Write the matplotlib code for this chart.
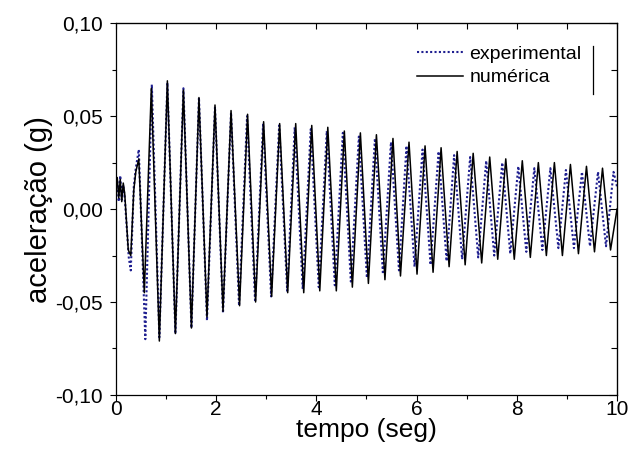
import matplotlib
matplotlib.use("Agg")
import matplotlib.pyplot as plt
from matplotlib.ticker import MultipleLocator, FuncFormatter
from matplotlib.lines import Line2D

plt.rcParams['font.family'] = ['Liberation Sans', 'DejaVu Sans']

# extrema (time in s, acceleration in g)
t_num = [0.00, 0.03, 0.06, 0.09, 0.12, 0.15, 0.18, 0.25, 0.30, 0.36, 0.40,
         0.46, 0.57, 0.71, 0.87, 1.03, 1.19, 1.35, 1.51, 1.66, 1.82, 1.98,
         2.14, 2.30, 2.47, 2.63, 2.79, 2.95, 3.11, 3.27, 3.43, 3.59, 3.75,
         3.91, 4.07, 4.23, 4.40, 4.56, 4.72, 4.88, 5.04, 5.20, 5.37, 5.53,
         5.68, 5.85, 6.01, 6.17, 6.33, 6.49, 6.65, 6.81, 6.97, 7.13, 7.30,
         7.46, 7.62, 7.78, 7.95, 8.11, 8.27, 8.43, 8.59, 8.75, 8.91, 9.07,
         9.23, 9.39, 9.55, 9.71, 9.87, 10.00]
a_num = [0.010, 0.017, 0.006, 0.016, 0.004, 0.014, 0.008, -0.022, -0.025,
         0.010, 0.020, 0.027, -0.045, 0.065, -0.071, 0.069, -0.067, 0.064,
         -0.064, 0.060, -0.058, 0.056, -0.055, 0.053, -0.052, 0.051, -0.050,
         0.047, -0.047, 0.046, -0.045, 0.046, -0.045, 0.045, -0.044, 0.044,
         -0.044, 0.042, -0.042, 0.041, -0.040, 0.040, -0.038, 0.038, -0.036,
         0.036, -0.035, 0.034, -0.034, 0.033, -0.031, 0.031, -0.030, 0.030,
         -0.029, 0.028, -0.027, 0.027, -0.027, 0.026, -0.026, 0.025, -0.025,
         0.025, -0.025, 0.024, -0.024, 0.023, -0.023, 0.022, -0.022, 0.000]

t_exp = [0.00, 0.03, 0.06, 0.09, 0.12, 0.15, 0.18, 0.26, 0.30, 0.36, 0.40,
         0.46, 0.59, 0.72, 0.87, 1.03, 1.19, 1.35, 1.51, 1.66, 1.82, 1.98,
         2.14, 2.30, 2.46, 2.62, 2.78, 2.94, 3.10, 3.26, 3.42, 3.57, 3.73,
         3.89, 4.05, 4.21, 4.37, 4.53, 4.69, 4.85, 5.01, 5.17, 5.33, 5.49,
         5.65, 5.80, 5.96, 6.12, 6.28, 6.44, 6.60, 6.75, 6.91, 7.07, 7.23,
         7.39, 7.55, 7.71, 7.87, 8.03, 8.19, 8.35, 8.51, 8.67, 8.83, 8.98,
         9.14, 9.30, 9.46, 9.62, 9.78, 9.93, 10.00]
a_exp = [0.008, 0.015, 0.004, 0.018, 0.005, 0.013, 0.006, -0.026, -0.033,
         0.012, 0.022, 0.032, -0.070, 0.067, -0.069, 0.068, -0.067, 0.065,
         -0.064, 0.060, -0.060, 0.055, -0.056, 0.052, -0.052, 0.050, -0.050,
         0.046, -0.047, 0.045, -0.044, 0.044, -0.043, 0.043, -0.042, 0.042,
         -0.041, 0.041, -0.039, 0.039, -0.037, 0.038, -0.035, 0.036, -0.033,
         0.034, -0.031, 0.032, -0.030, 0.031, -0.028, 0.029, -0.027, 0.028,
         -0.026, 0.026, -0.025, 0.025, -0.024, 0.023, -0.023, 0.022, -0.022,
         0.022, -0.021, 0.021, -0.021, 0.020, -0.020, 0.020, -0.020, 0.020,
         0.012]

labels = ["experimental", "numérica"]

fig = plt.figure(figsize=(6.29, 4.55), dpi=100)
ax = fig.add_axes([0.184, 0.132, 0.797, 0.817])

ax.plot(t_exp, a_exp, color='#1f1f90', linestyle=(0, (1.0, 1.1)),
        linewidth=1.5, label=labels[0])
ax.plot(t_num, a_num, 'k-', linewidth=1.1, label=labels[1])

ax.set_xlim(0, 10)
ax.set_ylim(-0.10, 0.10)
ax.xaxis.set_major_locator(MultipleLocator(2))
ax.xaxis.set_minor_locator(MultipleLocator(1))
ax.yaxis.set_major_locator(MultipleLocator(0.05))
ax.yaxis.set_minor_locator(MultipleLocator(0.025))
ax.yaxis.set_major_formatter(FuncFormatter(lambda v, p: ("%.2f" % v).replace(".", ",").replace("-0,00", "0,00")))
ax.xaxis.set_major_formatter(FuncFormatter(lambda v, p: "%d" % round(v)))

ax.tick_params(which='both', direction='out', top=False, right=False,
               labelsize=15, width=0.8)
ax.tick_params(which='major', length=4)
ax.tick_params(which='minor', length=3)
ax.tick_params(axis='x', pad=0)
ax.tick_params(axis='y', pad=5)

# mirrored inward ticks on top and right, as in the original
axt = ax.secondary_xaxis('top')
axt.xaxis.set_major_locator(MultipleLocator(2))
axt.xaxis.set_minor_locator(MultipleLocator(1))
axt.tick_params(which='both', direction='in', labeltop=False, length=4, width=0.8)
axr = ax.secondary_yaxis('right')
axr.yaxis.set_major_locator(MultipleLocator(0.05))
axr.yaxis.set_minor_locator(MultipleLocator(0.025))
axr.tick_params(which='both', direction='in', labelright=False, width=0.8)
axr.tick_params(which='major', length=6)
axr.tick_params(which='minor', length=4)

for s in ax.spines.values():
    s.set_linewidth(0.9)

ax.set_xlabel("tempo (seg)", fontsize=19, labelpad=-1)
ax.set_ylabel("aceleração (g)", fontsize=21, labelpad=2)

leg = ax.legend(loc='upper right', bbox_to_anchor=(0.952, 0.972), frameon=False,
                fontsize=14, handlelength=2.4, handletextpad=0.3,
                labelspacing=0.3, borderaxespad=0.2)
# the thin vertical bar at the right of the legend
ax.add_line(Line2D([0.952, 0.952], [0.81, 0.94], transform=ax.transAxes,
                   color='k', linewidth=0.9))

fig.savefig("out.png", dpi=100)
